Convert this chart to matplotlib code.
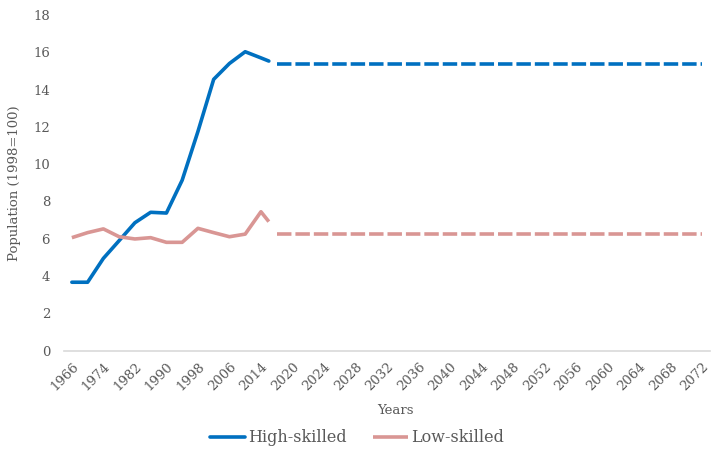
import matplotlib
matplotlib.use('Agg')
import matplotlib.pyplot as plt
import numpy as np

# x-axis categories (Excel-style category axis)
categories = [1966, 1970, 1974, 1978, 1982, 1986, 1990, 1994, 1998, 2002, 2006, 2010, 2014,
              2018, 2020, 2022, 2024, 2026, 2028, 2030, 2032, 2034, 2036, 2038, 2040, 2042,
              2044, 2046, 2048, 2050, 2052, 2054, 2056, 2058, 2060, 2062, 2064, 2066, 2068,
              2070, 2072]
tick_labels = [str(c) for c in categories[::2]]

# historical series
hist_years = [1966, 1970, 1974, 1978, 1982, 1986, 1990, 1994, 1998, 2002, 2006, 2010, 2014, 2016]
high_hist = [3.67, 3.67, 4.95, 5.9, 6.86, 7.42, 7.38, 9.14, 11.75, 14.55, 15.4, 16.03, 15.7, 15.53]
low_hist = [6.06, 6.33, 6.53, 6.11, 5.99, 6.06, 5.81, 5.81, 6.56, 6.33, 6.11, 6.25, 7.45, 6.92]

# projections
proj_years = categories[13:]
high_proj = [15.35] * len(proj_years)
low_proj = [6.27] * len(proj_years)

series_names = ['High-skilled', 'Low-skilled']
blue = '#0070C0'
pink = '#D99694'
text_col = '#595959'

plt.rcParams['font.family'] = ['DejaVu Serif']

fig = plt.figure(figsize=(7.11, 4.49), dpi=100)
ax = fig.add_axes([0.090, 0.219, 0.9086, 0.7476])

idx = np.arange(len(categories))
def pos(years):
    return np.interp(years, categories, idx)

lw = 2.6
ax.plot(pos(hist_years), high_hist, color=blue, lw=lw, solid_capstyle='round',
        solid_joinstyle='round', label=series_names[0])
ax.plot(pos(hist_years), low_hist, color=pink, lw=lw, solid_capstyle='butt',
        solid_joinstyle='round', label=series_names[1])
ax.plot(pos(proj_years), high_proj, color=blue, lw=lw, dashes=(4, 1.1))
ax.plot(pos(proj_years), low_proj, color=pink, lw=lw, dashes=(4, 1.1))

ax.set_xlim(-0.5, len(categories) - 0.5)
ax.set_ylim(0, 18)
ax.set_yticks(np.arange(0, 19, 2))
ax.set_xticks(idx[::2])
ax.set_xticklabels(tick_labels, rotation=45, ha='right', va='top', rotation_mode='anchor')

for s in ['top', 'right', 'left']:
    ax.spines[s].set_visible(False)
ax.spines['bottom'].set_color('#D9D9D9')
ax.spines['bottom'].set_linewidth(1.2)
ax.tick_params(axis='both', length=0, colors=text_col, labelsize=9.5)
ax.tick_params(axis='y', pad=10)
ax.tick_params(axis='x', pad=7)

ax.set_ylabel('Population (1998=100)', color=text_col, fontsize=9.5, labelpad=9)
fig.text(395 / 711, 1 - 410 / 449, 'Years', color=text_col, fontsize=9.5, ha='center', va='center')

leg = fig.legend(loc='center', bbox_to_anchor=(357 / 711, 1 - 438 / 449), ncol=2, frameon=False,
                 fontsize=11.5, handlelength=2.2, handletextpad=0.2, columnspacing=1.6)
for t in leg.get_texts():
    t.set_color(text_col)

fig.savefig('out.png', dpi=100)
